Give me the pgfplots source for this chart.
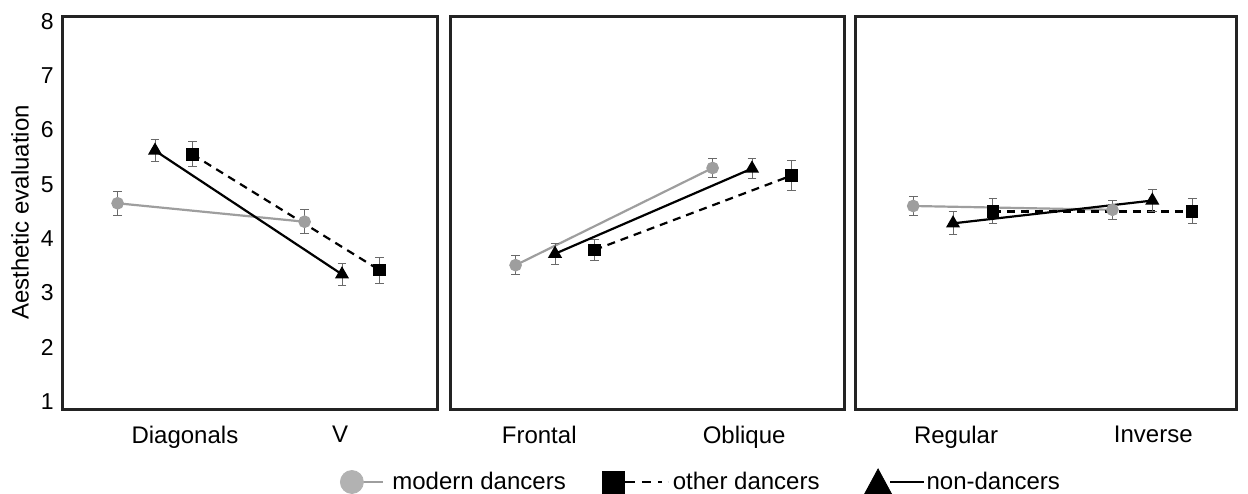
\documentclass[border=0pt]{standalone}
\usepackage{pgfplots}
\pgfplotsset{compat=1.18}
\usepackage{fontspec}
\setmainfont{Liberation Sans}

\definecolor{modgray}{RGB}{158,158,158}
\definecolor{legray}{RGB}{178,178,178}
\definecolor{errgray}{RGB}{105,105,105}
\definecolor{frame}{RGB}{35,35,35}

\pgfplotsset{
  panel/.style={
    scale only axis, height=196.5pt, ymin=0.86, ymax=8.1,
    axis line style={line width=1.5pt, color=frame},
    major tick length=0pt, ytick=\empty,
    xticklabel style={anchor=north, inner sep=0pt, yshift=-8.5pt, font=\fontsize{12}{14}\selectfont},
    clip=false,
  },
  errs/.style={error bars/y dir=both, error bars/y explicit,
    error bars/error bar style={solid, line width=0.5pt, color=errgray},
    error bars/error mark options={solid, rotate=90, mark size=2.2pt, line width=0.5pt, color=errgray}},
  modern/.style={color=modgray, line width=1.1pt, mark=*, mark size=2.6pt, mark options={solid, fill=modgray, draw=modgray}, errs},
  other/.style={color=black, line width=1.1pt, dash pattern=on 4pt off 3pt, mark=square*, mark size=2.5pt, mark options={solid}, errs},
  non/.style={color=black, line width=1.1pt, mark=triangle*, mark size=3pt, mark options={solid}, errs},
}

\begin{document}
\begin{tikzpicture}
\path[use as bounding box] (0pt,0pt) rectangle (624pt,-246.5pt);

% Panel 1
\begin{axis}[panel, at={(31.5pt,-204.5pt)}, anchor=south west, width=187pt,
  xmin=0.508, xmax=2.508,
  xtick={1.16,1.99}, xticklabels={Diagonals,V},
  ytick={1,2,3,4,5,6,7,8},
  yticklabel style={anchor=east, inner sep=0pt, xshift=-4.5pt, font=\fontsize{11.5}{13}\selectfont},
  /pgf/number format/assume math mode=true,
  ylabel={Aesthetic evaluation},
  ylabel style={at={(axis description cs:-0.115,0.5)}, anchor=center, font=\fontsize{12}{14}\selectfont},
]
\addplot[modern] coordinates {(0.8,4.65) +- (0,0.22) (1.8,4.31) +- (0,0.22)};
\addplot[other] coordinates {(1.2,5.55) +- (0,0.23) (2.2,3.42) +- (0,0.24)};
\addplot[non] coordinates {(1,5.62) +- (0,0.2) (2,3.34) +- (0,0.2)};
\end{axis}

% Panel 2
\begin{axis}[panel, at={(225pt,-204.5pt)}, anchor=south west, width=197pt,
  xmin=0.467, xmax=2.467,
  xtick={0.92,1.96}, xticklabels={Frontal,Oblique},
  legend columns=3,
  legend style={at={(-0.2792,-0.1845)}, anchor=west, draw=none, fill=none,
    inner sep=0pt, outer sep=0pt, column sep=0pt, row sep=0pt,
    font=\fontsize{12}{14}\selectfont, nodes={inner sep=0pt}},
]
\addplot[modern, forget plot] coordinates {(0.8,3.51) +- (0,0.18) (1.8,5.30) +- (0,0.17)};
\addplot[other, forget plot] coordinates {(1.2,3.79) +- (0,0.2) (2.2,5.16) +- (0,0.27)};
\addplot[non, forget plot] coordinates {(1,3.72) +- (0,0.19) (2,5.29) +- (0,0.19)};
\addlegendimage{legend image code/.code={
  \path[draw=none, fill=none] (-5.75pt,0pt) -- (20.25pt,0pt);
  \draw[modgray, line width=1.1pt, solid] (5.75pt,0pt) -- (15.75pt,0pt);
  \fill[legray] (0pt,0pt) circle (5.75pt);
}}
\addlegendentry{modern dancers}
\addlegendimage{legend image code/.code={
  \path[draw=none, fill=none] (-24pt,0pt) -- (29.5pt,0pt);
  \draw[black, line width=1.1pt, dash pattern=on 5pt off 3.5pt on 4.5pt off 3.5pt on 2pt off 3pt] (5.5pt,0pt) -- (27pt,0pt);
  \fill[black] (-5.5pt,-5.5pt) rectangle (5.5pt,5.5pt);
}}
\addlegendentry{other dancers}
\addlegendimage{legend image code/.code={
  \path[draw=none, fill=none] (-29.25pt,0pt) -- (24.25pt,0pt);
  \draw[black, line width=1.1pt, solid] (6pt,0pt) -- (22.75pt,0pt);
  \fill[black] (-6.75pt,-6pt) -- (6.75pt,-6pt) -- (0pt,6.5pt) -- cycle;
}}
\addlegendentry{non-dancers}
\end{axis}

% Panel 3
\begin{axis}[panel, at={(427.5pt,-204.5pt)}, anchor=south west, width=190.5pt,
  xmin=0.508, xmax=2.42,
  xtick={1.015,2.005}, xticklabels={Regular,Inverse},
]
\addplot[modern] coordinates {(0.8,4.60) +- (0,0.18) (1.8,4.53) +- (0,0.17)};
\addplot[other] coordinates {(1.2,4.50) +- (0,0.23) (2.2,4.50) +- (0,0.23)};
\addplot[non] coordinates {(1,4.28) +- (0,0.21) (2,4.70) +- (0,0.21)};
\end{axis}
\end{tikzpicture}
\end{document}
